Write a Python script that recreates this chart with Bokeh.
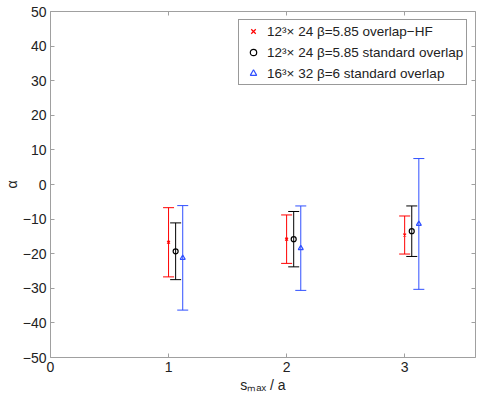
from bokeh.plotting import figure
from bokeh.models import (ColumnDataSource, Whisker, TeeHead, LinearAxis, FixedTicker,
                          Legend, LegendItem, Range1d)
from bokeh.embed import file_html
from bokeh.resources import INLINE

# ---- data ----
s_max = [1, 2, 3]
alpha_hf_12 = [-16.7, -15.8, -14.6]
err_hf_12 = [10.0, 7.0, 5.5]
alpha_std_12 = [-19.3, -15.8, -13.5]
err_std_12 = [8.2, 8.0, 7.3]
alpha_std_16 = [-21.2, -18.4, -11.4]
err_std_16 = [15.1, 12.2, 18.9]

series_labels = ["12³× 24 β=5.85 overlap−HF",
                 "12³× 24 β=5.85 standard overlap",
                 "16³× 32 β=6 standard overlap"]
x_ticks = [0, 1, 2, 3]
y_ticks = [-50, -40, -30, -20, -10, 0, 10, 20, 30, 40, 50]
y_tick_labels = ["−50", "−40", "−30", "−20", "−10", "0", "10", "20", "30", "40", "50"]
x_label = "sₘₐₓ / a"
y_label = "α"

FONT = "Liberation Sans"
AX = "#a0a0a0"
TXT = "#222222"

p = figure(width=479, height=396, output_backend="svg", toolbar_location=None,
           x_range=Range1d(0, 3.6), y_range=Range1d(-50, 50),
           min_border_left=48, min_border_right=4, min_border_top=11, min_border_bottom=39)
p.background_fill_color = "white"
p.border_fill_color = "white"
p.outline_line_color = None
p.grid.visible = False

def style_axis(ax, labels=True):
    ax.axis_line_color = AX
    ax.major_tick_line_color = AX
    ax.major_tick_in = 4
    ax.major_tick_out = 0
    ax.minor_tick_line_color = None
    ax.major_label_standoff = 4
    ax.major_label_text_font = FONT
    ax.major_label_text_color = TXT
    ax.major_label_text_font_size = "14px"
    if not labels:
        ax.major_label_text_color = None
        ax.major_label_text_font_size = "1px"
        ax.major_label_standoff = 0

p.xaxis.ticker = FixedTicker(ticks=x_ticks)
p.yaxis.ticker = FixedTicker(ticks=y_ticks)
p.yaxis.major_label_overrides = {t: l for t, l in zip(y_ticks, y_tick_labels)}
style_axis(p.xaxis[0])
style_axis(p.yaxis[0])
for ax, lab in ((p.xaxis[0], x_label), (p.yaxis[0], y_label)):
    ax.axis_label = lab
    ax.axis_label_text_font = FONT
    ax.axis_label_text_font_size = "14px"
    ax.axis_label_text_font_style = "normal"
    ax.axis_label_text_color = TXT
    ax.axis_label_standoff = 0
p.xaxis[0].axis_label_standoff = 2

top_ax = LinearAxis(ticker=FixedTicker(ticks=x_ticks))
right_ax = LinearAxis(ticker=FixedTicker(ticks=y_ticks))
style_axis(top_ax, labels=False)
style_axis(right_ax, labels=False)
p.add_layout(top_ax, "above")
p.add_layout(right_ax, "right")

offsets = [0.0, 0.06, 0.12]
colors = ["#ff0000", "#000000", "#3050ff"]
markers = ["x", "circle", "triangle"]
sizes = [4, 5, 5]
vals = [alpha_hf_12, alpha_std_12, alpha_std_16]
errs = [err_hf_12, err_std_12, err_std_16]

items = []
for off, c, m, sz, v, e, lab in zip(offsets, colors, markers, sizes, vals, errs, series_labels):
    src = ColumnDataSource(dict(
        x=[s + off for s in s_max],
        y=v,
        upper=[a + b for a, b in zip(v, e)],
        lower=[a - b for a, b in zip(v, e)],
    ))
    w = Whisker(source=src, base="x", upper="upper", lower="lower",
                line_color=c, line_width=1,
                upper_head=TeeHead(size=11, line_color=c, line_width=1),
                lower_head=TeeHead(size=11, line_color=c, line_width=1))
    p.add_layout(w)
    r = p.scatter("x", "y", source=src, marker=m, size=sz, line_color=c,
                  fill_color=None, line_width=1.2)
    items.append(LegendItem(label=lab, renderers=[r]))

legend = Legend(items=items, location=(188, 272))
legend.label_text_font = FONT
legend.label_text_font_size = "13.5px"
legend.label_text_color = TXT
legend.border_line_color = "#333333"
legend.border_line_width = 1
legend.padding = 3
legend.spacing = 5
legend.glyph_height = 16
legend.glyph_width = 22
legend.label_height = 16
legend.label_standoff = 3
legend.margin = 0
legend.background_fill_color = "white"
p.add_layout(legend)

open("out.html", "w").write(file_html(p, INLINE, title="plot"))
